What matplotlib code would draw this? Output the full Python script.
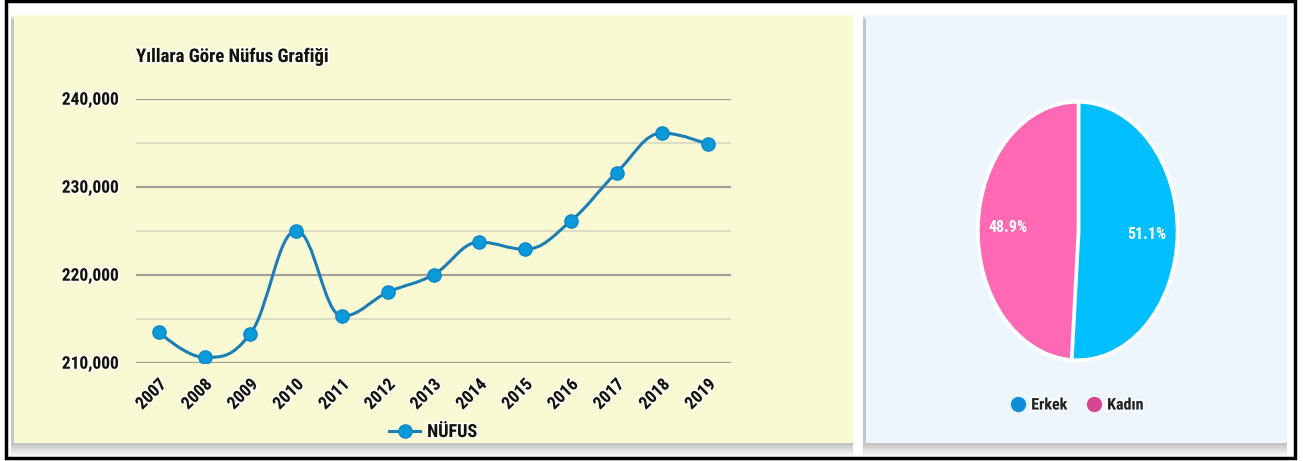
import matplotlib
matplotlib.use("Agg")
import matplotlib.pyplot as plt
import matplotlib.patheffects as pe
from matplotlib.patches import Rectangle, PathPatch
from matplotlib.path import Path
from matplotlib.lines import Line2D

plt.rcParams['font.family'] = ['Roboto Condensed', 'DejaVu Sans']
plt.rcParams['font.weight'] = 'bold'

# data
years = ['2007', '2008', '2009', '2010', '2011', '2012', '2013',
         '2014', '2015', '2016', '2017', '2018', '2019']
population = [213500, 210600, 213300, 225000, 215300, 218000, 220000,
              223700, 222900, 226100, 231600, 236100, 234800]
y_ticks = [210000, 220000, 230000, 240000]
sexes = ['Erkek', 'Kadın']
shares = [51.1, 48.9]

W, H = 1303, 461
LINE_C = '#1b7db3'
MARK_C = '#0a9ad9'
BLUE = '#00bfff'
PINK = '#ff69b4'
halo = [pe.withStroke(linewidth=3, foreground='#ffffff', alpha=0.6)]


def fig_box(x0, y0, x1, y1):
    # pixel box (top-left origin) -> figure fraction [l, b, w, h]
    return [x0 / W, 1 - y1 / H, (x1 - x0) / W, (y1 - y0) / H]


def spline_path(xs, ys, smoothing=1.5):
    # highcharts style spline control points
    denom = smoothing + 1
    verts = [(xs[0], ys[0])]
    codes = [Path.MOVETO]
    right = [None] * len(xs)
    left = [None] * len(xs)
    for i in range(1, len(xs) - 1):
        px, py = xs[i], ys[i]
        lx, ly = xs[i - 1], ys[i - 1]
        nx, ny = xs[i + 1], ys[i + 1]
        lcx = (smoothing * px + lx) / denom
        lcy = (smoothing * py + ly) / denom
        rcx = (smoothing * px + nx) / denom
        rcy = (smoothing * py + ny) / denom
        corr = 0
        if rcx != lcx:
            corr = (rcy - lcy) * (rcx - px) / (rcx - lcx) + py - rcy
        lcy += corr
        rcy += corr
        if lcy > ly and lcy > py:
            lcy = max(ly, py)
            rcy = 2 * py - lcy
        elif lcy < ly and lcy < py:
            lcy = min(ly, py)
            rcy = 2 * py - lcy
        if rcy > ny and rcy > py:
            rcy = max(ny, py)
            lcy = 2 * py - rcy
        elif rcy < ny and rcy < py:
            rcy = min(ny, py)
            lcy = 2 * py - rcy
        left[i] = (lcx, lcy)
        right[i] = (rcx, rcy)
    for i in range(1, len(xs)):
        c1 = right[i - 1] if right[i - 1] else (xs[i - 1], ys[i - 1])
        c2 = left[i] if left[i] else (xs[i], ys[i])
        verts += [c1, c2, (xs[i], ys[i])]
        codes += [Path.CURVE4] * 3
    return Path(verts, codes)


fig = plt.figure(figsize=(W / 100, H / 100), dpi=100)
fig.patch.set_facecolor('white')

# background layer: frame, shadows, panels
bg = fig.add_axes([0, 0, 1, 1], zorder=0)
bg.set_xlim(0, W)
bg.set_ylim(H, 0)
bg.axis('off')
bg.add_patch(Rectangle((6, 1), 1289, 457, fill=False, ec='black', lw=2.5))
for x0, x1, c in [(14, 853, '#f9f9d3'), (866, 1287, '#eef6fd')]:
    for k in range(1, 9):
        bg.add_patch(Rectangle((x0 - 3, 15 + k * 0.6), x1 - x0 + 3, 428 + k,
                               fc='#606060', ec='none', alpha=0.05))
    bg.add_patch(Rectangle((x0, 15), x1 - x0, 428, fc=c, ec='none'))

# line chart
ax = fig.add_axes(fig_box(136, 98.7, 731, 362.7), zorder=2)
ax.patch.set_alpha(0)
xs = list(range(len(years)))
ax.set_xlim(-0.5, len(years) - 0.5)
ax.set_ylim(210000, 240000)
for v in range(210000, 240001, 5000):
    major = v in y_ticks
    ax.axhline(v, color='#a0a098' if major else '#d8d8c4',
               lw=1.6 if major else 1.2, zorder=1)
ax.add_patch(PathPatch(spline_path(xs, population), fill=False,
                       ec=LINE_C, lw=2.2, zorder=3))
ax.plot(xs, population, 'o', ls='none', ms=9.5, mfc=MARK_C, mec='#0c86c4',
        mew=1, zorder=4)
for s in ['top', 'right', 'bottom', 'left']:
    ax.spines[s].set_visible(False)
ax.set_yticks(y_ticks)
ax.set_yticklabels([f'{v:,}' for v in y_ticks], fontsize=12.5,
                   fontweight='bold', color='#111111')
ax.set_xticks(xs)
ax.set_xticklabels(years, rotation=45, ha='right', va='top',
                   rotation_mode='anchor', fontsize=12.5, fontweight='bold',
                   color='#111111')
ax.tick_params(length=0, axis='y', pad=12)
ax.tick_params(length=0, axis='x', pad=10)
for t in ax.get_xticklabels() + ax.get_yticklabels():
    t.set_path_effects(halo)
fig.text(136 / W, 1 - 57 / H, 'Yıllara Göre Nüfus Grafiği', fontsize=13.5,
         fontweight='bold', color='#111111', va='center', ha='left',
         path_effects=halo, zorder=5)
h_line = Line2D([], [], color=LINE_C, lw=2.2, marker='o', ms=9.5,
                mfc=MARK_C, mec='#0c86c4')
leg = fig.legend([h_line], ['NÜFUS'], loc='center',
                 bbox_to_anchor=(433 / W, 1 - 432 / H), frameon=False,
                 prop={'size': 13, 'weight': 'bold'}, handlelength=1.7,
                 handletextpad=0.4)
for t in leg.get_texts():
    t.set_color('#111111')
    t.set_path_effects(halo)

# pie chart
pax = fig.add_axes(fig_box(976.7, 100, 1178.7, 362), zorder=2)
wedges, _, autotexts = pax.pie(shares, colors=[BLUE, PINK], startangle=90,
                               counterclock=False, autopct='%.1f%%',
                               pctdistance=0.7,
                               wedgeprops={'edgecolor': 'white', 'linewidth': 1.5},
                               textprops={'fontsize': 11.5, 'fontweight': 'bold',
                                          'color': 'white'})
pax.set_aspect('auto')
pax.set_xlim(-1.02, 1.02)
pax.set_ylim(-1.02, 1.02)
for w in wedges:
    w.set_path_effects([pe.withStroke(linewidth=4, foreground='white'), pe.Normal()])
handles = [Line2D([], [], ls='none', marker='o', ms=10, mfc='#0b8fd6',
                  mec='#0b8fd6'),
           Line2D([], [], ls='none', marker='o', ms=10, mfc='#d9468f',
                  mec='#d9468f')]
leg2 = fig.legend(handles, sexes, loc='center', ncol=2,
                  bbox_to_anchor=(1077 / W, 1 - 405 / H), frameon=False,
                  prop={'size': 11.5, 'weight': 'bold'}, handlelength=1.0,
                  handletextpad=0.3, columnspacing=1.2)
for t in leg2.get_texts():
    t.set_color('#222222')
    t.set_path_effects(halo)

fig.savefig('out.png', dpi=100)
